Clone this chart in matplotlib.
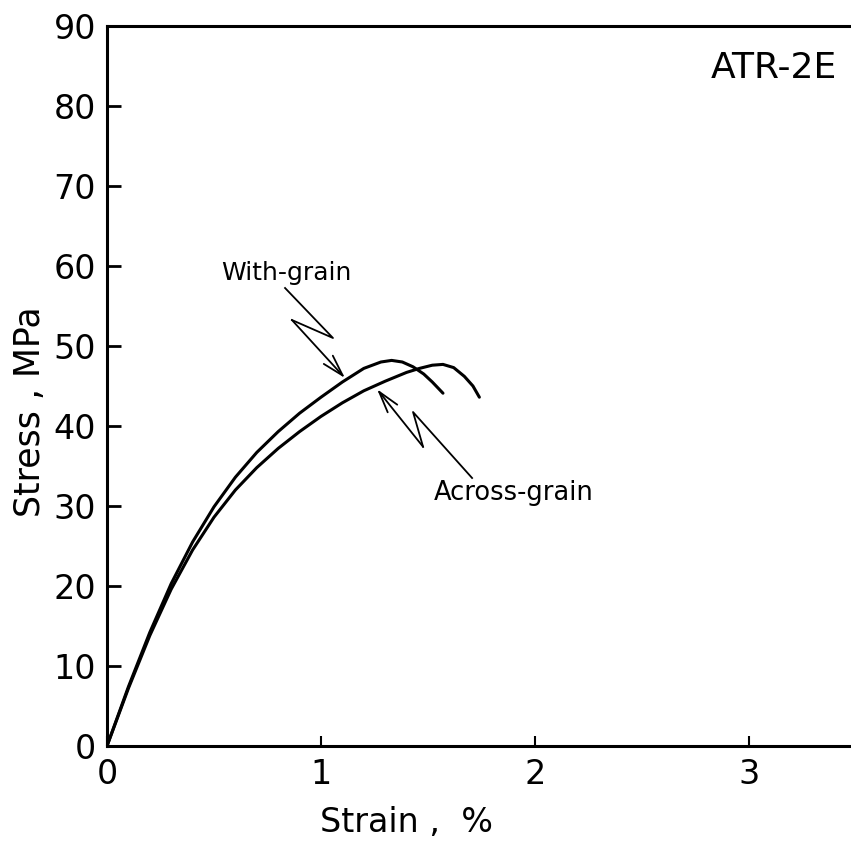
import matplotlib
matplotlib.use("Agg")
import matplotlib.pyplot as plt
from matplotlib.ticker import FixedLocator

# Data
with_strain = [0, 0.1, 0.2, 0.3, 0.4, 0.5, 0.6, 0.7, 0.8, 0.9, 1.0, 1.1, 1.2, 1.28, 1.33, 1.38, 1.43, 1.48, 1.52, 1.57]
with_stress = [0, 7.4, 14.2, 20.3, 25.5, 29.9, 33.6, 36.7, 39.3, 41.6, 43.6, 45.5, 47.2, 48.0, 48.2, 48.0, 47.4, 46.5, 45.5, 44.1]

across_strain = [0, 0.1, 0.2, 0.3, 0.4, 0.5, 0.6, 0.7, 0.8, 0.9, 1.0, 1.1, 1.2, 1.3, 1.4, 1.46, 1.52, 1.57, 1.62, 1.67, 1.71, 1.74]
across_stress = [0, 7.2, 13.8, 19.6, 24.5, 28.6, 32.0, 34.8, 37.2, 39.3, 41.2, 42.9, 44.4, 45.6, 46.7, 47.2, 47.6, 47.7, 47.3, 46.2, 45.0, 43.6]

y_ticks = [0, 10, 20, 30, 40, 50, 60, 70, 80, 90]
x_ticks = [0, 1, 2, 3]

# zig-zag leader lines (data coords)
with_leader_x = [0.832, 1.056, 0.864, 1.112]
with_leader_y = [57.25, 51.0, 53.25, 46.0]
across_leader_x = [1.706, 1.430, 1.477, 1.262]
across_leader_y = [33.5, 41.75, 37.4, 44.6]

fig = plt.figure(figsize=(8.51, 8.44), dpi=100)
ax = fig.add_axes([107/851, 98/844, 1 - 107/851, (746-26)/844])

ax.plot(with_strain, with_stress, color="black", lw=2.2, solid_capstyle="round", solid_joinstyle="round")
ax.plot(across_strain, across_stress, color="black", lw=2.2, solid_capstyle="round", solid_joinstyle="round")

for lx, ly in [(with_leader_x, with_leader_y), (across_leader_x, across_leader_y)]:
    ax.plot(lx[:-1], ly[:-1], color="black", lw=1.3)
    ax.annotate("", xy=(lx[-1], ly[-1]), xytext=(lx[-2], ly[-2]),
                arrowprops=dict(arrowstyle="->,head_length=0.7,head_width=0.2", color="black", lw=1.3,
                                mutation_scale=22, shrinkA=0, shrinkB=0))

ax.text(0.84, 59.1, "With-grain", fontsize=18, ha="center", va="center")
ax.text(1.90, 31.6, "Across-grain", fontsize=18.5, ha="center", va="center")
ax.text(3.41, 84.8, "ATR-2E", fontsize=26, ha="right", va="center")

ax.set_xlim(0, (851 - 107) / 214)
ax.set_ylim(0, 90)
ax.xaxis.set_major_locator(FixedLocator(x_ticks))
ax.yaxis.set_major_locator(FixedLocator(y_ticks))
ax.set_xticklabels([str(v) for v in x_ticks])
ax.set_yticklabels([str(v) for v in y_ticks])

ax.spines["right"].set_visible(False)
for s in ["left", "bottom", "top"]:
    ax.spines[s].set_linewidth(2.2)

ax.tick_params(axis="y", direction="in", length=10, width=2, labelsize=24, pad=8)
ax.tick_params(axis="x", direction="in", length=7, width=1.5, labelsize=24, pad=9)

xl = ax.set_xlabel("Strain ,  %", fontsize=24, va="center")
ax.xaxis.set_label_coords(0.402, -0.106)
yl = ax.set_ylabel("Stress , MPa", fontsize=25, va="center")
ax.yaxis.set_label_coords(-0.104, 0.464)

fig.savefig("out.png", dpi=100)
